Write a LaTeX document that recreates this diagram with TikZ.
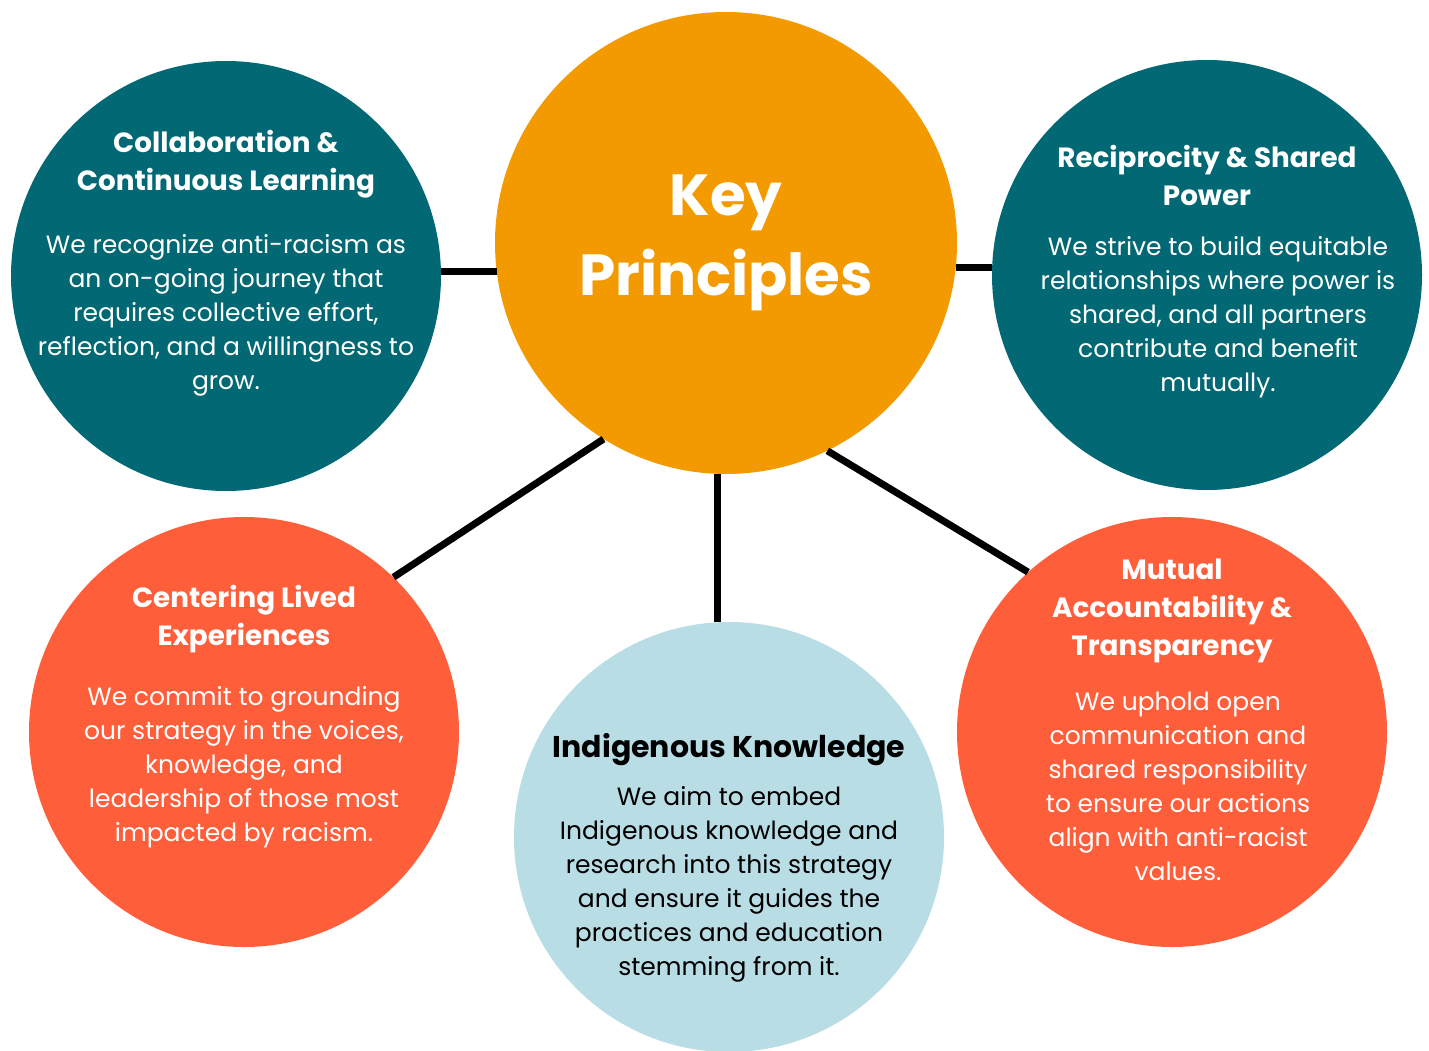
\documentclass[tikz,border=0pt]{standalone}
\usepackage{fontspec}
\setmainfont{Poppins}
\usepackage{xcolor}
\usetikzlibrary{positioning}
\definecolor{teal}{HTML}{026873}
\definecolor{amber}{HTML}{F29A00}
\definecolor{coral}{HTML}{FF5E3B}
\definecolor{sky}{HTML}{B9DDE5}
\tikzset{%
	hub/.style      = {circle, fill=amber, minimum size=462pt, inner sep=0pt}, % Center
	spoke/.style    = {circle, minimum size=430pt, inner sep=0pt}, % Principle
	head/.style     = {anchor=base, align=center, inner sep=0pt, text=white, font=\bfseries\fontsize{27.8}{38}\selectfont},
	body/.style     = {anchor=base, align=center, inner sep=0pt, text=white, font=\fontsize{25}{34}\selectfont},
	link/.style     = {line width=7pt, black},
}
\begin{document}
\begin{tikzpicture}[x=1pt,y=-1pt]
	\useasboundingbox (0,0) rectangle (1429,1051);
	\node[hub] (key) at (726,243) {};
	\node[spoke,fill=teal] (collab) at (226,276) {};
	\node[spoke,fill=teal] (recip) at (1207,275) {};
	\node[spoke,fill=coral] (lived) at (244,732) {};
	\node[spoke,fill=sky] (indig) at (729,837) {};
	\node[spoke,fill=coral] (mutual) at (1172,732) {};
	\draw[link] (key.187) -- (key.187 -| collab.east);
	\draw[link] (key.-6) -- (key.-6 -| recip.west);
	\draw[link] (key.238) -- (lived.46);
	\draw[link] (key.268.6) -- (key.268.6 |- indig.north);
	\draw[link] (key.-64) -- (mutual.132.5);

	% text, placed at the baseline of the last line
	\node[head,font=\bfseries\fontsize{58}{80}\selectfont] (keyt) at (726,295) {Key\\Principles};

	\node[head] (collabt) at (226,191) {Collaboration \&\\Continuous Learning};
	\node[body] (collabb) at (226,389) {We recognize anti-racism as\\an on-going journey that\\requires collective effort,\\reflection, and a willingness to\\grow.};

	\node[head] (recipt) at (1207,205) {Reciprocity \& Shared\\Power};
	\node[body] (recipb) at (1218,391) {We strive to build equitable\\relationships where power is\\shared, and all partners\\contribute and benefit\\mutually.};

	\node[head] (livedt) at (244,645) {Centering Lived\\Experiences};
	\node[body] (livedb) at (244,841) {We commit to grounding\\our strategy in the voices,\\knowledge, and\\leadership of those most\\impacted by racism.};

	\node[head,text=black,font=\bfseries\fontsize{30}{38}\selectfont] (indigt) at (729,757) {Indigenous Knowledge};
	\node[body,text=black] (indigb) at (729,975) {We aim to embed\\Indigenous knowledge and\\research into this strategy\\and ensure it guides the\\practices and education\\stemming from it.};

	\node[head] (mutualt) at (1172,655) {Mutual\\Accountability \&\\Transparency};
	\node[body] (mutualb) at (1178,880) {We uphold open\\communication and\\shared responsibility\\to ensure our actions\\align with anti-racist\\values.};
\end{tikzpicture}
\end{document}
